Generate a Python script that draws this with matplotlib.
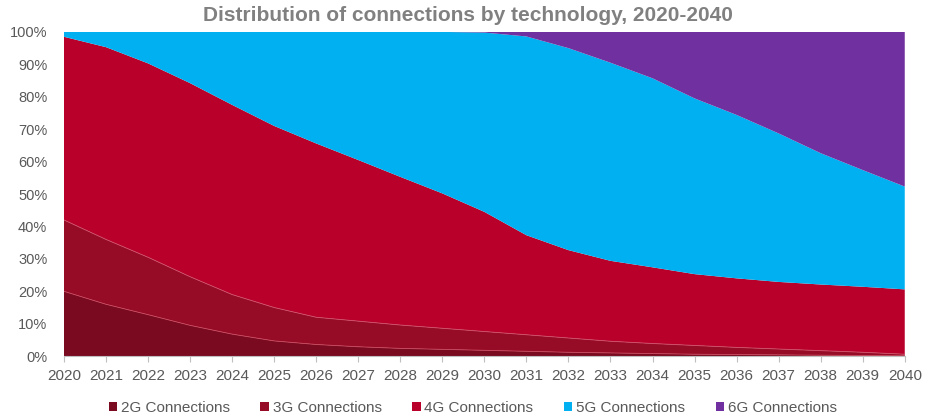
import numpy as np
import matplotlib.pyplot as plt
from matplotlib.patches import Patch

years = list(range(2020, 2041))
g2 = [20, 16, 12.8, 9.5, 6.8, 4.7, 3.6, 2.9, 2.4, 2.1, 1.8, 1.5, 1.2, 1.0, 0.8, 0.6, 0.5, 0.4, 0.3, 0.2, 0.1]
g3 = [22, 20, 17.7, 15, 12.2, 10.3, 8.4, 7.9, 7.2, 6.5, 5.8, 5.1, 4.4, 3.6, 3.1, 2.7, 2.2, 1.8, 1.4, 1.0, 0.5]
g4 = [56.5, 59.3, 59.8, 59.7, 58.5, 56, 53.6, 49.7, 45.7, 41.6, 36.9, 30.7, 27.1, 24.8, 23.5, 22, 21.3, 20.7, 20.4, 20.2, 20]
g5 = [1.5, 4.7, 9.7, 15.8, 22.5, 29, 34.4, 39.5, 44.7, 49.8, 55.3, 61.3, 62.3, 61.1, 58.3, 54.2, 50.4, 45.8, 40.5, 36, 31.7]
g6 = [0, 0, 0, 0, 0, 0, 0, 0, 0, 0, 0.2, 1.4, 5, 9.5, 14.3, 20.5, 25.6, 31.3, 37.4, 42.6, 47.7]

labels = ['2G Connections', '3G Connections', '4G Connections', '5G Connections', '6G Connections']
colors = ['#7a0a20', '#960b25', '#b8002b', '#00b0f0', '#7030a0']

plt.rcParams['font.family'] = ['Liberation Sans', 'DejaVu Sans']

fig = plt.figure(figsize=(9.27, 4.2), dpi=100)
ax = fig.add_axes([0.069, 0.152, 0.907, 0.772])

data = np.array([g2, g3, g4, g5, g6])
ax.stackplot(years, data, colors=colors, linewidth=0)

# thin light lines between the red layers
cum = np.cumsum(data, axis=0)
ax.plot(years, cum[0], color='#c8485e', lw=0.6)
ax.plot(years, cum[1], color='#d0506a', lw=0.6)

ax.set_xlim(2020, 2040)
ax.set_ylim(0, 100)
ax.set_xticks(years)
ax.set_xticklabels([str(y) for y in years], fontsize=11, color='#595959')
ax.set_yticks(range(0, 101, 10))
ax.set_yticklabels([f'{v}%' for v in range(0, 101, 10)], fontsize=10.5, color='#595959')
ax.tick_params(axis='y', length=0, pad=12)
ax.tick_params(axis='x', length=4, color='#bfbfbf', pad=5)

for s in ['left', 'top', 'right']:
    ax.spines[s].set_visible(False)
ax.spines['bottom'].set_color('#bfbfbf')

fig.text(0.505, 0.962, 'Distribution of connections by technology, 2020-2040',
         ha='center', va='center', fontsize=15, fontweight='bold', color='#808080')

handles = [Patch(facecolor=c, edgecolor='none') for c in colors]
fig.legend(handles, labels, loc='center', bbox_to_anchor=(0.510, 0.028), ncol=5,
           frameon=False, handlelength=0.55, handleheight=0.55, handletextpad=0.25,
           columnspacing=2.0, prop={'size': 11}, labelcolor='#595959')

fig.savefig('out.png', dpi=100)
